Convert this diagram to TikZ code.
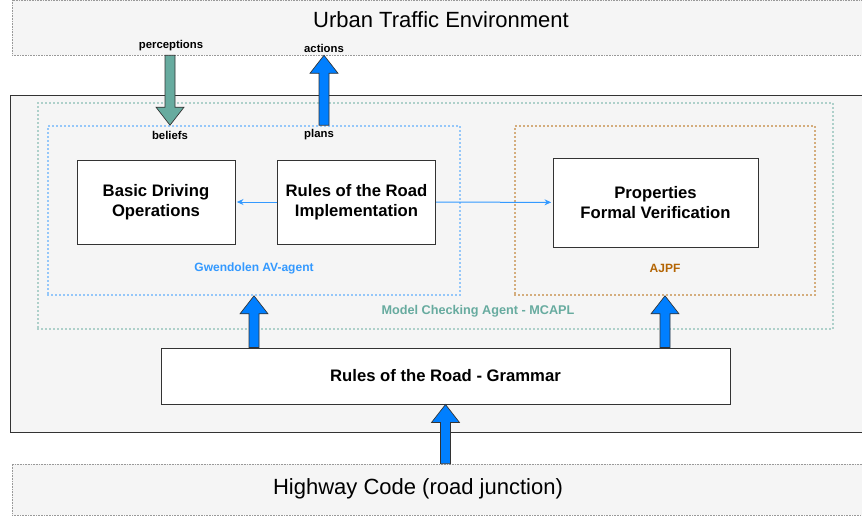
\documentclass[tikz,border=0pt]{standalone}
\usepackage{fontspec}
\setmainfont{Liberation Sans}
\usetikzlibrary{arrows.meta,calc}

\definecolor{bggray}{HTML}{F5F5F5}
\definecolor{edgegray}{HTML}{333333}
\definecolor{mcteal}{HTML}{67AB9F}
\definecolor{gwblue}{HTML}{3399FF}
\definecolor{arrblue}{HTML}{007FFF}
\definecolor{ajorange}{HTML}{B46504}

% fat arrow as a filled outline: fill, tail, tip
\newcommand{\blockarrow}[3]{%
  \coordinate (ba-h) at ($(#3)!13.5pt!(#2)$);
  \draw[blkarr, fill=#1] ($(#2)!3.75pt!90:(#3)$) -- ($(ba-h)!3.75pt!90:(#3)$)
    -- ($(ba-h)!10.5pt!90:(#3)$) -- (#3) -- ($(ba-h)!10.5pt!-90:(#3)$)
    -- ($(ba-h)!3.75pt!-90:(#3)$) -- ($(#2)!3.75pt!-90:(#3)$) -- cycle;
}

\begin{document}
\begin{tikzpicture}[
    x=0.75pt, y=-0.75pt,
    >=Stealth,
    envbox/.style={draw=gray!80, fill=bggray, line width=0.4pt, dash pattern=on 0.6pt off 0.6pt, inner sep=0pt},
    mainbox/.style={draw=edgegray, fill=bggray, line width=0.75pt, inner sep=0pt},
    dotbox/.style={draw=#1, line width=1.2pt, line cap=round, dash pattern=on 0pt off 3pt, inner sep=0pt},
    blk/.style={draw=edgegray, fill=white, line width=0.75pt, inner sep=0pt, align=center, font=\bfseries\fontsize{12.5}{14.8}\selectfont},
    tag/.style={font=\bfseries\fontsize{8.5}{10}\selectfont, inner sep=0pt},
    grp/.style={font=\bfseries\fontsize{9}{11}\selectfont, text=#1, inner sep=0pt},
    blkarr/.style={draw=edgegray, line width=0.5pt, line join=miter},
    thinarr/.style={draw=gwblue, line width=0.75pt, shorten >=1pt, arrows={-Stealth[length=5pt, width=4.5pt]}}
  ]
  \useasboundingbox (0,0) rectangle (862,519);

  % --- ENVIRONMENT / INPUT ---
  \node[envbox, minimum width=643.5pt, minimum height=41.25pt] (env) at (441,27.5) {};
  \node[font=\fontsize{16.5}{19}\selectfont] (envtxt) at (441,20) {Urban Traffic Environment};
  \node[envbox, minimum width=643.5pt, minimum height=38.25pt] (hwy) at (441,489.5) {};
  \node[font=\fontsize{16.5}{19}\selectfont] (hwytxt) at (418,489) {Highway Code (road junction)};

  % --- SYSTEM ---
  \node[mainbox, minimum width=640pt, minimum height=252.75pt] (sys) at (437.5,263.5) {};
  \node[dotbox=mcteal, minimum width=596.25pt, minimum height=169.5pt] (mcapl) at (435.5,216) {};
  \node[dotbox=gwblue, minimum width=309pt, minimum height=126.75pt] (gwen) at (254,210.5) {};
  \node[dotbox=ajorange, minimum width=225pt, minimum height=126.75pt] (ajpf) at (665,210.5) {};

  \node[blk, minimum width=118.5pt, minimum height=63pt] (bdo) at (156,202) {Basic Driving\\Operations};
  \node[blk, minimum width=118.5pt, minimum height=63pt] (rri) at (356.5,202) {Rules of the Road\\Implementation};
  \node[blk, minimum width=153.75pt, minimum height=66.75pt] (pfv) at (655.5,202.5) {Properties\\Formal Verification};
  \node[blk, minimum width=426.75pt, minimum height=42pt] (gram) at (445.5,376) {Rules of the Road - Grammar};

  % --- LABELS ---
  \node[tag] (perc) at (171,46) {perceptions};
  \node[tag] (act) at (324,48) {actions};
  \node[tag] (bel) at (170,135) {beliefs};
  \node[tag] (pla) at (319,135) {plans};
  \node[grp=gwblue] (gwlab) at (254,268) {Gwendolen AV-agent};
  \node[grp=ajorange] (ajlab) at (665,268) {AJPF};
  \node[grp=mcteal, font=\bfseries\fontsize{9.5}{11}\selectfont] (mclab) at (478,311) {Model Checking Agent - MCAPL};

  % --- CONNECTIONS ---
  \draw[thinarr] (rri) -- (bdo);
  \draw[thinarr] (rri) -- (pfv);

  \coordinate (perc-a) at (env.south -| bel);
  \coordinate (perc-b) at (gwen.north -| bel);
  \coordinate (act-a) at (gwen.north -| act);
  \coordinate (act-b) at (env.south -| act);
  \coordinate (gw-a) at (gram.north -| gwen);
  \coordinate (aj-a) at (gram.north -| ajpf);
  \coordinate (hw-a) at (hwy.north -| gram);

  \blockarrow{mcteal}{perc-a}{perc-b}
  \blockarrow{arrblue}{act-a}{act-b}
  \blockarrow{arrblue}{gw-a}{gwen.south}
  \blockarrow{arrblue}{aj-a}{ajpf.south}
  \blockarrow{arrblue}{hw-a}{gram.south}

\end{tikzpicture}
\end{document}
